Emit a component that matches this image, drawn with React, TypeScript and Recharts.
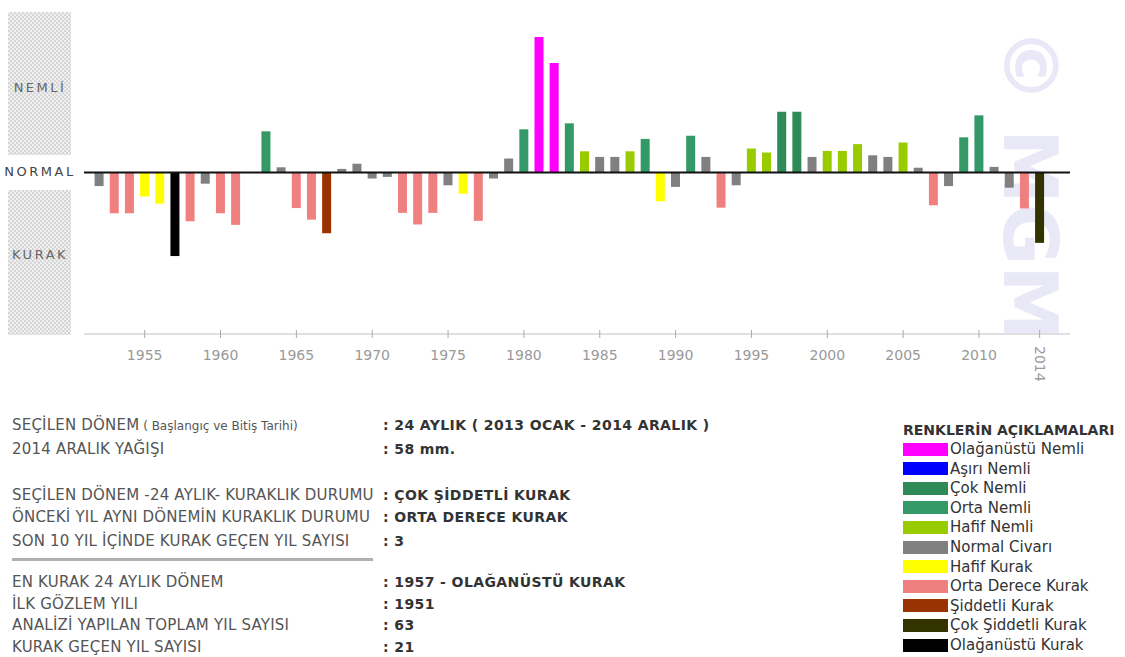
import React from 'react';
import { BarChart, Bar, XAxis, YAxis, ReferenceLine, Cell } from 'recharts';

// 24-month drought index, one bar per year
const years = [
  1952, 1953, 1954, 1955, 1956, 1957, 1958, 1959, 1960, 1961,
  1962, 1963, 1964, 1965, 1966, 1967, 1968, 1969, 1970, 1971,
  1972, 1973, 1974, 1975, 1976, 1977, 1978, 1979, 1980, 1981,
  1982, 1983, 1984, 1985, 1986, 1987, 1988, 1989, 1990, 1991,
  1992, 1993, 1994, 1995, 1996, 1997, 1998, 1999, 2000, 2001,
  2002, 2003, 2004, 2005, 2006, 2007, 2008, 2009, 2010, 2011,
  2012, 2013, 2014,
];

const indexValues = [
  -0.34, -1.02, -1.02, -0.6, -0.78, -2.09, -1.22, -0.28, -1.02, -1.31,
  0, 1.03, 0.13, -0.89, -1.18, -1.52, 0.09, 0.22, -0.15, -0.11,
  -1.01, -1.3, -1.01, -0.32, -0.53, -1.21, -0.15, 0.35, 1.08, 3.39,
  2.74, 1.23, 0.53, 0.39, 0.39, 0.53, 0.84, -0.72, -0.36, 0.92,
  0.39, -0.88, -0.32, 0.6, 0.5, 1.52, 1.52, 0.39, 0.54, 0.54,
  0.71, 0.43, 0.39, 0.75, 0.12, -0.82, -0.34, 0.88, 1.43, 0.14,
  -0.38, -0.9, -1.76,
];

// index into legendLabels
const classIdx = [
  5, 7, 7, 6, 6, 10, 7, 5, 7, 7,
  5, 3, 5, 7, 7, 8, 5, 5, 5, 5,
  7, 7, 7, 5, 6, 7, 5, 5, 3, 0,
  0, 3, 4, 5, 5, 4, 3, 6, 5, 3,
  5, 7, 5, 4, 4, 2, 2, 5, 4, 4,
  4, 5, 5, 4, 5, 7, 5, 3, 3, 5,
  5, 7, 9,
];

const legendLabels = [
  'Olağanüstü Nemli',
  'Aşırı Nemli',
  'Çok Nemli',
  'Orta Nemli',
  'Hafif Nemli',
  'Normal Civarı',
  'Hafif Kurak',
  'Orta Derece Kurak',
  'Şiddetli Kurak',
  'Çok Şiddetli Kurak',
  'Olağanüstü Kurak',
];

const legendColors = [
  '#ff00ff', '#0000ff', '#2e8b57', '#339966', '#99cc00', '#808080',
  '#ffff00', '#f08080', '#993300', '#333300', '#000000',
];

const tickYears = [1955, 1960, 1965, 1970, 1975, 1980, 1985, 1990, 1995, 2000, 2005, 2010, 2014];

const infoLabels = [
  'SEÇİLEN DÖNEM',
  '2014 ARALIK YAĞIŞI',
  'SEÇİLEN DÖNEM -24 AYLIK- KURAKLIK DURUMU',
  'ÖNCEKİ YIL AYNI DÖNEMİN KURAKLIK DURUMU',
  'SON 10 YIL İÇİNDE KURAK GEÇEN YIL SAYISI',
  'EN KURAK 24 AYLIK DÖNEM',
  'İLK GÖZLEM YILI',
  'ANALİZİ YAPILAN TOPLAM YIL SAYISI',
  'KURAK GEÇEN YIL SAYISI',
];

const infoValues = [
  ': 24 AYLIK ( 2013 OCAK - 2014 ARALIK )',
  ': 58 mm.',
  ': ÇOK ŞİDDETLİ KURAK',
  ': ORTA DERECE KURAK',
  ': 3',
  ': 1957 - OLAĞANÜSTÜ KURAK',
  ': 1951',
  ': 63',
  ': 21',
];

const infoY = [425, 449, 495, 517, 541, 582, 604, 625, 647];

const data = years.map((year, i) => ({ year, value: indexValues[i], cls: classIdx[i] }));

const FONT = '"DejaVu Sans", Verdana, sans-serif';

const BottomTick = (props: any) => {
  const { x, y, payload } = props;
  const v = payload.value;
  return (
    <g>
      <line x1={x} x2={x} y1={y - 4} y2={y + 4} stroke="#aaa" />
      {v === 2014 ? (
        <text
          x={x}
          y={y + 12}
          dy="0.35em"
          transform={`rotate(90, ${x}, ${y + 12})`}
          fill="#999"
          fontSize={14}
          fontFamily={FONT}
        >
          {v}
        </text>
      ) : (
        <text x={x} y={y + 26} textAnchor="middle" fill="#999" fontSize={14} fontFamily={FONT}>
          {v}
        </text>
      )}
    </g>
  );
};

const TopTick = (props: any) => {
  const { x, y } = props;
  return <line x1={x} x2={x} y1={y - 6} y2={y + 4} stroke="#aaa" />;
};

const checker = 'repeating-conic-gradient(#d6d6d6 0% 25%, #efefef 0% 50%) 0 0 / 4px 4px';

const sideLabel = (top: number, color: string): React.CSSProperties => ({
  position: 'absolute',
  left: -10,
  top,
  width: 100,
  textAlign: 'center',
  fontSize: 13,
  letterSpacing: 2.5,
  color,
});

export default function App() {
  return (
    <div style={{ position: 'absolute', left: 0, top: 0, width: 1125, height: 657, background: '#fff', fontFamily: FONT }}>
      {/* watermark */}
      <svg width={1125} height={657} style={{ position: 'absolute', left: 0, top: 0 }}>
        <text
          x={1030}
          y={28}
          dy="0.35em"
          transform="rotate(90, 1030, 28)"
          fontSize={75}
          fontWeight="bold"
          fill="#e8e8f7"
          fontFamily={FONT}
        >
          © MGM
        </text>
      </svg>

      {/* side bands */}
      <div style={{ position: 'absolute', left: 8, top: 12, width: 63, height: 143, background: checker }} />
      <div style={{ position: 'absolute', left: 8, top: 190, width: 63, height: 145, background: checker }} />
      <div style={sideLabel(80, '#666')}>NEMLİ</div>
      <div style={sideLabel(164, '#444')}>NORMAL</div>
      <div style={sideLabel(247, '#666')}>KURAK</div>

      <div style={{ position: 'absolute', left: 0, top: 0 }}>
        <BarChart width={1125} height={400} data={data} margin={{ top: 11, right: 55, bottom: 0, left: 84 }}>
          <XAxis
            xAxisId="top"
            orientation="top"
            dataKey="year"
            type="number"
            domain={[1951, 2016]}
            ticks={tickYears}
            interval={0}
            height={0}
            tickSize={0}
            tickMargin={0}
            tickLine={false}
            axisLine={{ stroke: '#e0e0e0', strokeWidth: 2 }}
            tick={<TopTick />}
          />
          <XAxis
            xAxisId="bottom"
            orientation="bottom"
            dataKey="year"
            type="number"
            domain={[1951, 2016]}
            ticks={tickYears}
            interval={0}
            height={66}
            tickSize={0}
            tickMargin={0}
            tickLine={false}
            axisLine={{ stroke: '#e0e0e0', strokeWidth: 2 }}
            tick={<BottomTick />}
          />
          <YAxis hide domain={[-4.04, 4.04]} />
          <Bar dataKey="value" xAxisId="bottom" barSize={9} isAnimationActive={false}>
            {data.map((d) => (
              <Cell key={d.year} fill={legendColors[d.cls]} />
            ))}
          </Bar>
          <ReferenceLine y={0} xAxisId="bottom" stroke="#111" strokeWidth={2} />
        </BarChart>
      </div>

      {/* info block */}
      {infoLabels.map((label, i) => (
        <div key={label + i} style={{ position: 'absolute', left: 12, top: infoY[i] - 9, fontSize: 15, letterSpacing: 0.2, lineHeight: '18px', color: '#555', whiteSpace: 'nowrap' }}>
          {label}
          {i === 0 && <span style={{ fontSize: 12, letterSpacing: 0 }}> ( Başlangıç ve Bitiş Tarihi)</span>}
        </div>
      ))}
      {infoValues.map((v, i) => (
        <div key={v + i} style={{ position: 'absolute', left: 383, top: infoY[i] - 9, fontSize: 14, letterSpacing: 0.4, lineHeight: '18px', fontWeight: 'bold', color: '#333', whiteSpace: 'nowrap' }}>
          {v}
        </div>
      ))}
      <div style={{ position: 'absolute', left: 12, top: 558, width: 361, height: 3, background: '#b0b0b0' }} />

      {/* legend */}
      <div style={{ position: 'absolute', left: 903, top: 421, fontSize: 14, lineHeight: '18px', fontWeight: 'bold', color: '#333', whiteSpace: 'nowrap' }}>
        RENKLERİN AÇIKLAMALARI
      </div>
      {legendLabels.map((label, i) => (
        <div key={label} style={{ position: 'absolute', left: 903, top: 449 + i * 19.6 - 9, height: 18, display: 'flex', alignItems: 'center', whiteSpace: 'nowrap' }}>
          <div style={{ width: 45, height: 13, background: legendColors[i] }} />
          <span style={{ marginLeft: 2, fontSize: 15, color: '#333' }}>{label}</span>
        </div>
      ))}
    </div>
  );
}
